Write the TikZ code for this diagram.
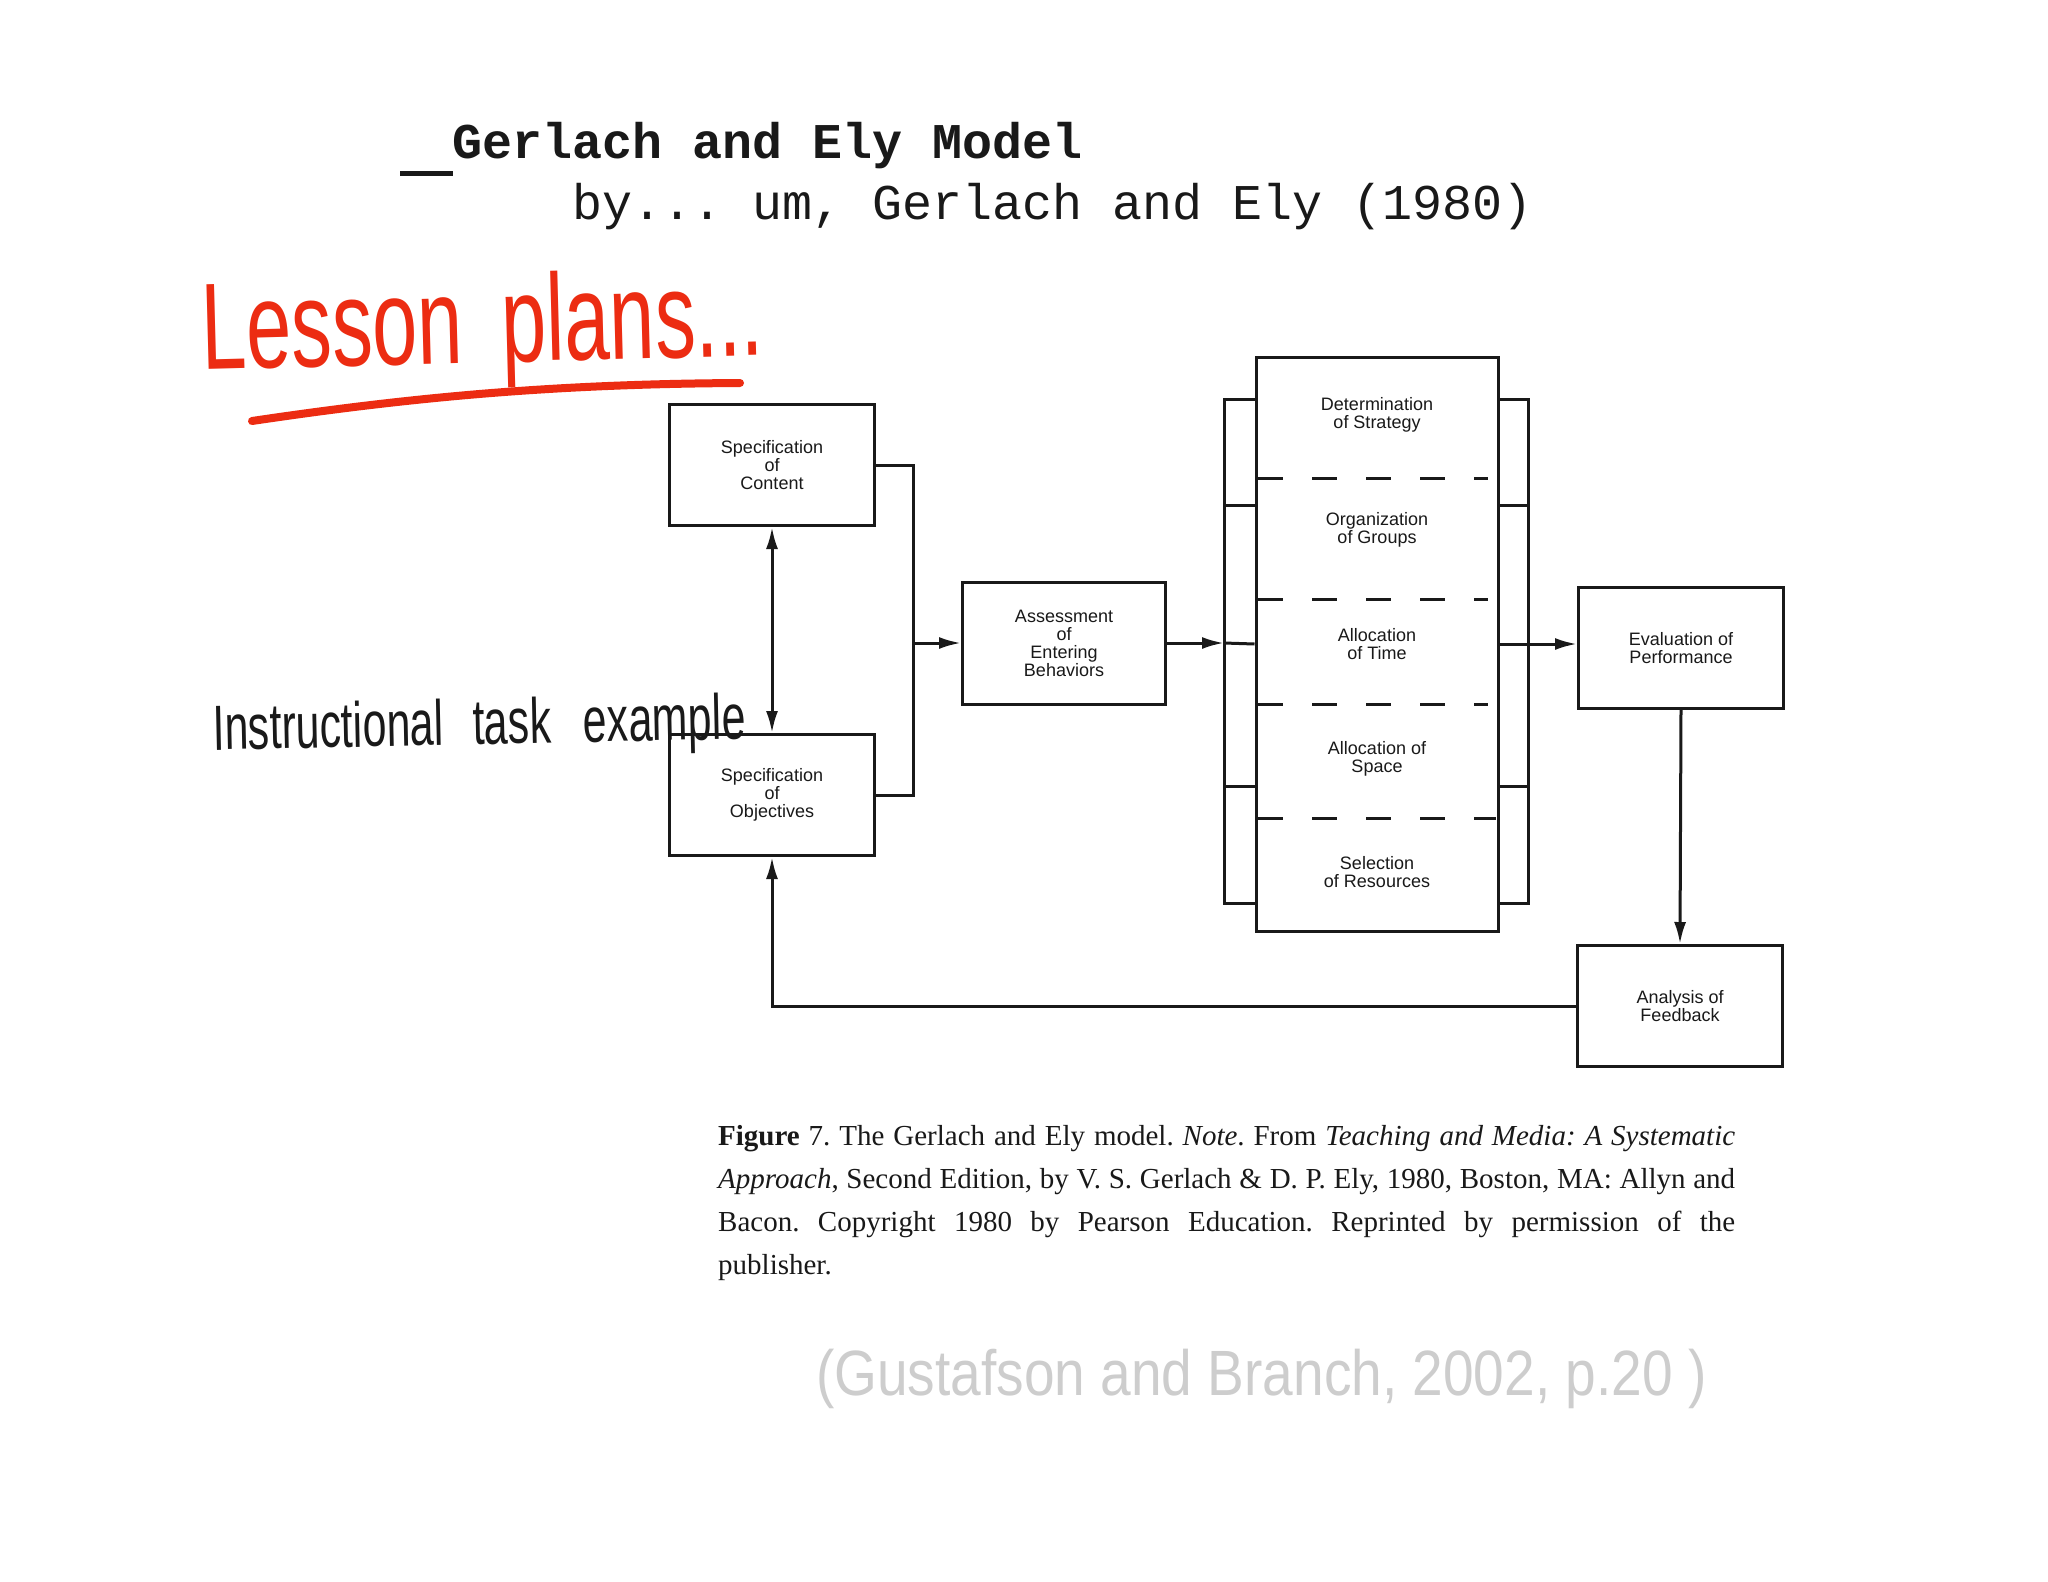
\documentclass[tikz,border=0pt]{standalone}
\usepackage{fontspec}
\usepackage{graphicx}
\setmainfont{Liberation Serif}
\setsansfont{Liberation Sans}
\setmonofont{Liberation Mono}
\usetikzlibrary{arrows.meta}
\definecolor{hwred}{RGB}{236,44,18}
\definecolor{ink}{RGB}{25,25,25}
\definecolor{citegray}{RGB}{205,205,205}
\frenchspacing
\begin{document}
\begin{tikzpicture}[x=1pt,y=-1pt,
  box/.style={draw=ink, line width=3pt, minimum width=205pt, minimum height=121pt, inner sep=0pt,
    font=\sffamily\fontsize{18}{18}\selectfont, align=center, text=ink},
  lbl/.style={inner sep=0pt, font=\sffamily\fontsize{18}{18}\selectfont, align=center, text=ink},
  conn/.style={draw=ink, line width=3pt},
  arr/.style={conn, -{Latex[length=22pt,width=12pt]}},
  dsh/.style={conn, dash pattern=on 25pt off 29pt},
  hand/.style={inner sep=0pt, anchor=base west}]
\useasboundingbox[fill=white] (0,0) rectangle (2048,1582);

% titles
\node[hand, font=\ttfamily\bfseries\fontsize{50}{50}\selectfont, text=ink] (title) at (452,158) {Gerlach and Ely Model};
\node[hand, font=\ttfamily\fontsize{50}{50}\selectfont, text=ink] (subtitle) at (572,219) {by... um, Gerlach and Ely (1980)};
\draw[ink, line width=5pt] (400,173) -- (453,173);

% handwriting
\node[hand, text=hwred, rotate=1.5] (lesson) at (202,370)
  {\scalebox{0.66}[1]{\fontsize{123}{123}\selectfont\sffamily Lesson\hspace{59pt}plans...}};
\draw[hwred, line width=8pt, line cap=round] (252,421) .. controls (420,396) and (560,384) .. (740,383);
\node[hand, text=ink, rotate=1.2] (task) at (213,750)
  {\scalebox{0.67}[1]{\fontsize{64}{64}\selectfont\sffamily Instructional\hspace{43pt}task\hspace{48pt}example}};

% boxes
\node[box] (content) at (772,465) {Specification\\of\\Content};
\node[box] (objectives) at (772,795) {Specification\\of\\Objectives};
\node[box, minimum width=203pt, minimum height=122pt] (assess) at (1064,643) {Assessment\\of\\Entering\\Behaviors};
\node[box, minimum width=242pt, minimum height=574pt] (central) at (1377,644) {};
\node[box] (eval) at (1681,648) {Evaluation of\\Performance};
\node[box] (analysis) at (1680,1006) {Analysis of\\Feedback};

% central sections
\node[lbl] (strategy) at (1377,415) {Determination\\of Strategy};
\node[lbl] (groups) at (1377,530) {Organization\\of Groups};
\node[lbl] (time) at (1377,644) {Allocation\\of Time};
\node[lbl] (space) at (1377,759) {Allocation of\\Space};
\node[lbl] (resources) at (1377,872) {Selection\\of Resources};
\draw[dsh] (1258,478) -- (1488,478);
\draw[dsh] (1258,599) -- (1488,599);
\draw[dsh] (1258,704) -- (1488,704);
\draw[dsh] (1258,818) -- (1496,818);

% brackets
\draw[conn] (1256,399) -- (1224,399) -- (1224,903) -- (1256,903);
\draw[conn] (1224,505) -- (1256,505);
\draw[conn] (1224,786) -- (1256,786);
\draw[conn] (1498,399) -- (1528,399) -- (1528,903) -- (1498,903);
\draw[conn] (1498,505) -- (1528,505);
\draw[conn] (1498,786) -- (1528,786);

% connectors
\coordinate (bus) at (913,643);
\coordinate (lbr) at (1224,643);
\draw[conn, {Latex[length=22pt,width=12pt]}-{Latex[length=22pt,width=12pt]}] (content.south) -- (objectives.north);
\draw[conn] (content.east) -| (bus) |- (objectives.east);
\draw[arr] (bus) -- (assess.west);
\draw[arr] (assess.east) -- (lbr);
\draw[conn] (lbr) -- (central.west);
\draw[arr] (central.east) -- (central.east -| eval.west);
\draw[arr] (eval.south) -- (analysis.north);
\draw[arr] (analysis.west) -| (objectives.south);

% caption
\node[anchor=north west, inner sep=0pt, text width=1017pt, align=justify, text=ink,
  font=\fontsize{29}{43}\selectfont] (caption) at (718,1125)
  {\textbf{Figure} 7. The Gerlach and Ely model. \textit{Note}. From \textit{Teaching and Media: A Systematic}\linebreak
   \textit{Approach}, Second Edition, by V. S. Gerlach \& D. P. Ely, 1980, Boston, MA: Allyn and\linebreak
   Bacon. Copyright 1980 by Pearson Education. Reprinted by permission of the\linebreak
   publisher.};

% citation
\node[hand, text=citegray] (cite) at (816,1395)
  {\scalebox{0.86}[1]{\fontsize{64}{64}\selectfont\sffamily (Gustafson and Branch, 2002, p.20 )}};
\end{tikzpicture}
\end{document}
